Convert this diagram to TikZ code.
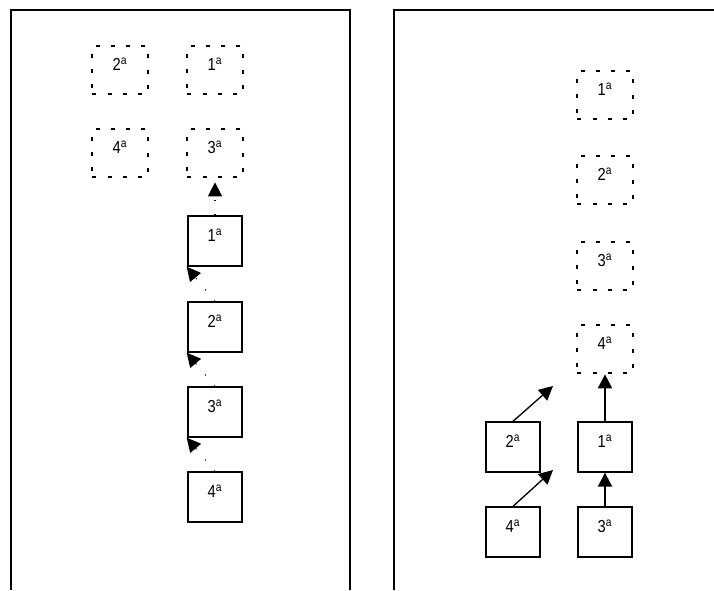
\documentclass[tikz,border=0pt]{standalone}
\usepackage{fontspec}
\setmainfont{Liberation Sans}[FakeStretch=0.85]
\usetikzlibrary{arrows.meta}
\tikzset{
  >={Triangle[length=10.5pt, width=10.5pt]},
  frame/.style={draw=black, line width=1.5pt},
  slot/.style={draw=black, line width=1.5pt, dash pattern=on 3pt off 8.4pt,
              minimum width=41.5pt, minimum height=36.5pt, inner sep=0pt,
              text height=9pt, text depth=9pt, font=\fontsize{13}{15}\selectfont},
  placed/.style={draw=black, line width=1.5pt,
              minimum width=41pt, minimum height=37pt, inner sep=0pt,
              text height=9pt, text depth=9pt, font=\fontsize{13}{15}\selectfont},
  mv/.style={->, draw=black, line width=0.8pt, dash pattern=on 0.8pt off 10pt},
  jump/.style={->, draw=black, line width=1.5pt},
  hop/.style={->, draw=black, line width=1pt},
}
\newcommand{\ord}[1]{#1\textsuperscript{a}}
\begin{document}
\begin{tikzpicture}[x=0.75pt,y=-0.75pt]
  \useasboundingbox (0,0) rectangle (714,590);
  % frames
  \draw[frame] (11,590) |- (350,10) -- (350,590);
  \draw[frame] (394,590) |- (714,10);
  % left panel
  \node[slot] (l2s) at (120,70){\ord{2}};
  \node[slot] (l1s) at (215,70){\ord{1}};
  \node[slot] (l4s) at (120,153){\ord{4}};
  \node[slot] (l3s) at (215,153){\ord{3}};
  \node[placed] (l1) at (215,241){\ord{1}};
  \node[placed] (l2) at (215,327){\ord{2}};
  \node[placed] (l3) at (215,412){\ord{3}};
  \node[placed] (l4) at (215,497){\ord{4}};
  \draw[mv, shorten >=3pt] (l1.north) -- (l3s.south);
  \foreach \a/\b in {l2/l1,l3/l2,l4/l3}{\draw[mv](\a.north)--(\b.south west);}
  % right panel
  \node[slot] (r1s) at (605,95){\ord{1}};
  \node[slot] (r2s) at (605,180){\ord{2}};
  \node[slot] (r3s) at (605,266){\ord{3}};
  \node[slot] (r4s) at (605,349){\ord{4}};
  \node[placed] (r2) at (513,447){\ord{2}};
  \node[placed] (r1) at (605,447){\ord{1}};
  \node[placed] (r4) at (513,532){\ord{4}};
  \node[placed] (r3) at (605,532){\ord{3}};
  \coordinate (t2) at (553,386);
  \coordinate (t4) at (553,470);
  \draw[jump] (r1.north) -- (r4s.south);
  \draw[jump] (r3.north) -- (r1.south);
  \draw[hop] (r2.north) -- (t2);
  \draw[hop] (r4.north) -- (t4);
\end{tikzpicture}
\end{document}
